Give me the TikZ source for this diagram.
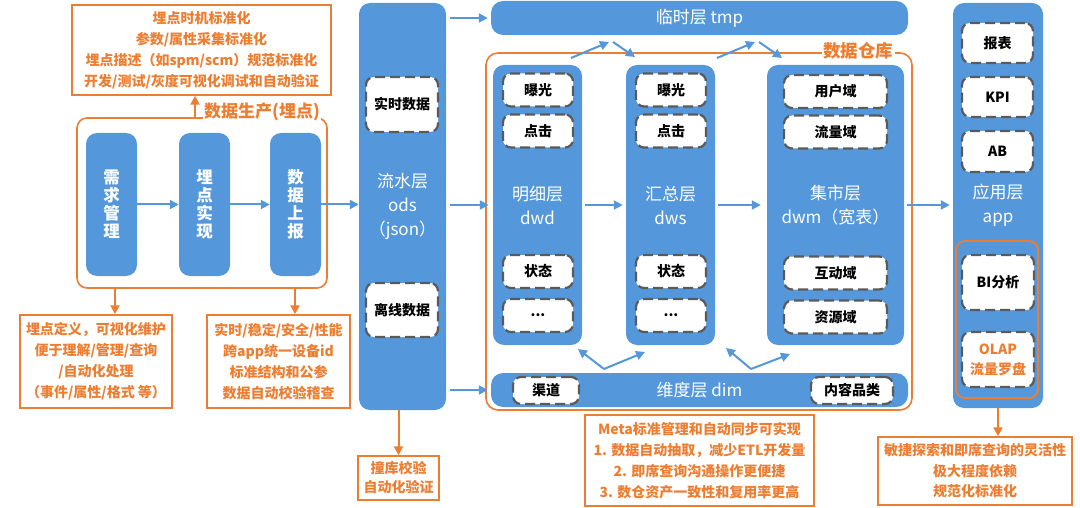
\documentclass[tikz,border=0pt]{standalone}
\usepackage{fontspec}
\setmainfont{Noto Sans CJK SC}
\usetikzlibrary{arrows.meta,calc}
\definecolor{cblue}{RGB}{84,152,219}
\definecolor{corange}{RGB}{237,125,49}
\definecolor{cgray}{RGB}{90,90,90}
\begin{document}
\begin{tikzpicture}[x=1pt,y=-1pt,
 col/.style={fill=cblue, draw=none, rounded corners=11pt, inner sep=0pt},
 sub/.style={fill=white, draw=cgray, line width=2.2pt, dash pattern=on 10pt off 5pt, rounded corners=8pt, inner sep=0pt, font=\fontsize{14}{20}\selectfont\bfseries, text=black, align=center},
 coltext/.style={text=white, align=center, font=\fontsize{17}{24}\selectfont},
 vtext/.style={text=white, align=center, font=\fontsize{16.5}{18}\selectfont\bfseries},
 obox/.style={draw=corange, line width=1.5pt, text=corange, align=center, inner sep=0pt, font=\fontsize{14}{21}\selectfont\bfseries},
 barr/.style={draw=cblue, line width=2pt, -{Triangle[length=9pt,width=9pt]}},
 oarr/.style={draw=corange, line width=2pt, -{Triangle[length=9pt,width=9pt]}},
 oframe/.style={draw=corange, line width=1.6pt, rounded corners=12pt},
 olabel/.style={fill=white, text=corange, inner sep=1.5pt, font=\fontsize{17}{20}\selectfont\bfseries},
]
\useasboundingbox (0,0) rectangle (1080,508);

% ---------- data production ----------
\node[obox, minimum width=259pt, minimum height=90pt] (topbox) at (201.5,50)
 {埋点时机标准化\\参数/属性采集标准化\\埋点描述（如spm/scm）规范标准化\\开发/测试/灰度可视化调试和自动验证};

\draw[oframe, rounded corners=10pt] (77,118) rectangle (327,288);
\node[olabel] (prodlabel) at (262,112) {数据生产(埋点)};
\coordinate (pf) at (195,118);
\draw[oarr] (pf) -- (pf |- topbox.south);

\node[col, vtext, minimum width=51pt, minimum height=143pt] (req) at (111.5,204.5) {需\\求\\管\\理};
\node[col, vtext, minimum width=51pt, minimum height=143pt] (impl) at (204.5,204.5) {埋\\点\\实\\现};
\node[col, vtext, minimum width=51pt, minimum height=143pt] (rep) at (295.5,204.5) {数\\据\\上\\报};

\node[obox, minimum width=152pt, minimum height=93pt] (lbox) at (96,361.5)
 {埋点定义，可视化维护\\便于理解/管理/查询\\/自动化处理\\（事件/属性/格式 等）};
\node[obox, minimum width=143pt, minimum height=93pt] (rbox) at (278.5,361.5)
 {实时/稳定/安全/性能\\跨app统一设备id\\标准结构和公参\\数据自动校验稽查};
\coordinate (pl) at (115,288);
\coordinate (pr) at (295,288);
\draw[oarr] (pl) -- (pl |- lbox.north);
\draw[oarr] (pr) -- (pr |- rbox.north);

\draw[barr] (req) -- (impl);
\draw[barr] (impl) -- (rep);

% ---------- ods ----------
\node[col, coltext, minimum width=87pt, minimum height=407pt] (ods) at (402.5,206.5) {流水层\\ods\\（json）};
\node[sub, minimum width=72pt, minimum height=55pt] (rt) at (402,104.5) {实时数据};
\node[sub, minimum width=72pt, minimum height=54pt] (off) at (402,310) {离线数据};
\draw[barr] (rep.east) -- (rep.east -| ods.west);

\node[obox, minimum width=81pt, minimum height=44pt, font=\fontsize{14}{19}\selectfont\bfseries] (zk) at (398.5,478) {撞库校验\\自动化验证};
\draw[oarr] (zk.north |- ods.south) -- (zk.north);

% ---------- tmp ----------
\node[col, rounded corners=12pt, text=white, font=\fontsize{17}{20}\selectfont, minimum width=417pt, minimum height=34pt] (tmp) at (699.5,18) {临时层 tmp};
\draw[barr, shorten <=4pt, shorten >=3pt] (ods.east |- tmp) -- (tmp.west);

% ---------- warehouse ----------
\draw[oframe] (486,53) rectangle (912,410);
\node[olabel, font=\fontsize{17.5}{20}\selectfont\bfseries] (dwlabel) at (858,51) {数据仓库};

\node[col, coltext, minimum width=89pt, minimum height=280pt] (dwd) at (537.5,205) {明细层\\dwd};
\node[sub, minimum width=70pt, minimum height=33pt] (dwd1) at (538,90) {曝光};
\node[sub, minimum width=70pt, minimum height=33pt] (dwd2) at (538,131) {点击};
\node[sub, minimum width=70pt, minimum height=33pt] (dwd3) at (538,271.5) {状态};
\node[sub, minimum width=70pt, minimum height=33pt] (dwd4) at (538,315.5) {...};

\node[col, coltext, minimum width=89pt, minimum height=280pt] (dws) at (670.5,205) {汇总层\\dws};
\node[sub, minimum width=70pt, minimum height=33pt] (dws1) at (671,90) {曝光};
\node[sub, minimum width=70pt, minimum height=33pt] (dws2) at (671,131) {点击};
\node[sub, minimum width=70pt, minimum height=33pt] (dws3) at (671,271.5) {状态};
\node[sub, minimum width=70pt, minimum height=33pt] (dws4) at (671,315.5) {...};

\node[col, coltext, minimum width=137pt, minimum height=280pt] (dwm) at (835.5,205) {集市层\\dwm（宽表）};
\node[sub, minimum width=103pt, minimum height=33pt] (dwm1) at (835.5,91.5) {用户域};
\node[sub, minimum width=103pt, minimum height=33pt] (dwm2) at (835.5,132) {流量域};
\node[sub, minimum width=103pt, minimum height=33pt] (dwm3) at (835.5,273) {互动域};
\node[sub, minimum width=103pt, minimum height=33pt] (dwm4) at (835.5,317) {资源域};

\node[col, rounded corners=12pt, text=white, font=\fontsize{17}{20}\selectfont, minimum width=417pt, minimum height=34pt] (dim) at (699.5,390) {维度层 dim};
\node[sub, minimum width=66pt, minimum height=27pt] (ch) at (546,390.5) {渠道};
\node[sub, minimum width=82pt, minimum height=27pt] (cc) at (852,390.5) {内容品类};

\draw[barr, shorten <=4pt, shorten >=4pt] (ods.east |- dwd) -- (dwd.west);
\draw[barr, shorten <=4pt, shorten >=3pt] (ods.east |- dim) -- (dim.west);
\draw[barr, shorten <=3pt, shorten >=3pt] (dwd) -- (dws);
\draw[barr, shorten <=3pt, shorten >=6pt] (dws) -- (dwm);

% diagonal arrows with tmp
\coordinate (u1s) at (571,58);  \coordinate (u1e) at (609,42);
\coordinate (d1s) at (613,42);  \coordinate (d1e) at (635,57);
\coordinate (u2s) at (717,58);  \coordinate (u2e) at (755,42);
\coordinate (d2s) at (759,42);  \coordinate (d2e) at (782,58);
\draw[barr] (u1s) -- (u1e);
\draw[barr] (d1s) -- (d1e);
\draw[barr] (u2s) -- (u2e);
\draw[barr] (d2s) -- (d2e);

% diagonal arrows from dim
\coordinate (m1) at (604,369);
\coordinate (m2) at (751,369);
\coordinate (m1a) at (578,349); \coordinate (m1b) at (645,352);
\coordinate (m2a) at (726,348); \coordinate (m2b) at (790,354);
\draw[barr] (m1) -- (m1a);
\draw[barr] (m1) -- (m1b);
\draw[barr] (m2) -- (m2a);
\draw[barr] (m2) -- (m2b);

% ---------- app ----------
\node[col, coltext, minimum width=90pt, minimum height=405pt] (app) at (998,205.5) {应用层\\app};
\node[sub, minimum width=71pt, minimum height=40pt] (a1) at (997.5,43) {报表};
\node[sub, minimum width=71pt, minimum height=40pt] (a2) at (997.5,97) {KPI};
\node[sub, minimum width=71pt, minimum height=41pt] (a3) at (997.5,151.5) {AB};
\draw[oframe, rounded corners=9pt, line width=1.8pt] (956,241) rectangle (1038,398);
\node[sub, minimum width=72pt, minimum height=55pt] (bi) at (998,282.5) {BI分析};
\node[sub, minimum width=72pt, minimum height=55pt, text=corange] (olap) at (998,359.5) {OLAP\\流量罗盘};
\draw[barr, shorten <=3pt, shorten >=3pt] (dwm.east) -- (dwm.east -| app.west);

\node[obox, minimum width=194pt, minimum height=68pt, font=\fontsize{14}{20.5}\selectfont\bfseries] (fb) at (975,471)
 {敏捷探索和即席查询的灵活性\\极大程度依赖\\规范化标准化};
\draw[oarr] (app.south) -- (app.south |- fb.north);

% ---------- meta ----------
\node[obox, minimum width=229pt, minimum height=91pt] (meta) at (699.5,460.5)
 {Meta标准管理和自动同步可实现\\1. 数据自动抽取，减少ETL开发量\\2. 即席查询沟通操作更便捷\\3. 数仓资产一致性和复用率更高};
\end{tikzpicture}
\end{document}
